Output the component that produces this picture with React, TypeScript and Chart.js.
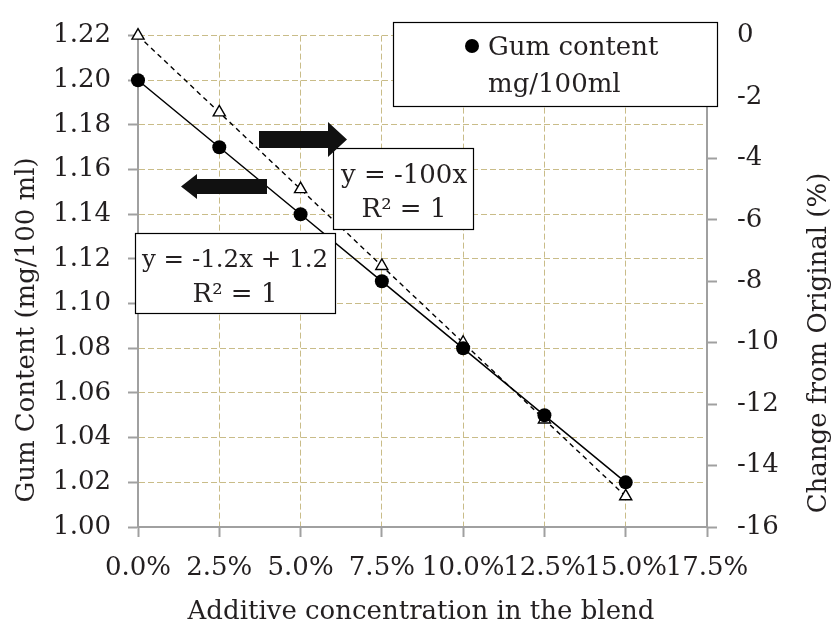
import React, { useEffect, useRef } from 'react';
import { Chart, registerables } from 'chart.js';

Chart.register(...registerables);

const concentration = [0, 0.025, 0.05, 0.075, 0.1, 0.125, 0.15];
const gumContent = [1.2, 1.17, 1.14, 1.11, 1.08, 1.05, 1.02];
const changeFromOriginal = [0, -2.5, -5, -7.5, -10, -12.5, -15];

const xTicks = [0, 0.025, 0.05, 0.075, 0.1, 0.125, 0.15, 0.175];
const xTickLabels = ['0.0%', '2.5%', '5.0%', '7.5%', '10.0%', '12.5%', '15.0%', '17.5%'];
const leftTicks = [1.0, 1.02, 1.04, 1.06, 1.08, 1.1, 1.12, 1.14, 1.16, 1.18, 1.2, 1.22];
const leftTickLabels = ['1.00', '1.02', '1.04', '1.06', '1.08', '1.10', '1.12', '1.14', '1.16', '1.18', '1.20', '1.22'];
const rightTicks = [-16, -14, -12, -10, -8, -6, -4, -2, 0];
const rightTickLabels = ['-16', '-14', '-12', '-10', '-8', '-6', '-4', '-2', '0'];

const xTitle = 'Additive concentration in the blend';
const leftTitle = 'Gum Content (mg/100 ml)';
const rightTitle = 'Change from Original (%)';
const legendLines = ['Gum content', 'mg/100ml'];
const eqGum = ['y = -1.2x + 1.2', 'R\u00B2 = 1'];
const eqChange = ['y = -100x', 'R\u00B2 = 1'];

const FONT = '"DejaVu Serif", serif';
const FS = 26;
const TEXT = '#231f20';
const GRID = '#c9bc88';
const AXIS = '#a0a0a0';

const overlay = {
  id: 'overlay',
  afterDatasetsDraw(chart: any) {
    const ctx = chart.ctx as CanvasRenderingContext2D;
    ctx.save();
    const box = (x: number, y: number, w: number, h: number) => {
      ctx.fillStyle = '#fff';
      ctx.fillRect(x, y, w, h);
      ctx.strokeStyle = '#000';
      ctx.lineWidth = 1.2;
      ctx.strokeRect(x + 0.5, y + 0.5, w, h);
    };
    ctx.fillStyle = TEXT;
    ctx.textBaseline = 'alphabetic';

    // equation boxes
    box(135, 233, 200, 80);
    ctx.fillStyle = TEXT;
    ctx.textAlign = 'center';
    ctx.font = `24.5px ${FONT}`;
    ctx.fillText(eqGum[0], 235, 267);
    ctx.font = `${FS}px ${FONT}`;
    ctx.fillText(eqGum[1], 235, 302);

    box(333, 148, 140, 81);
    ctx.fillStyle = TEXT;
    ctx.fillText(eqChange[0], 404, 183);
    ctx.fillText(eqChange[1], 404, 217);

    // legend
    box(393, 22, 324, 84);
    ctx.fillStyle = '#000';
    ctx.beginPath();
    ctx.arc(472, 46, 7, 0, Math.PI * 2);
    ctx.fill();
    ctx.fillStyle = TEXT;
    ctx.textAlign = 'left';
    ctx.fillText(legendLines[0], 488, 55);
    ctx.fillText(legendLines[1], 488, 92);

    // arrows
    ctx.fillStyle = '#111';
    ctx.beginPath();
    ctx.moveTo(259, 131);
    ctx.lineTo(328, 131);
    ctx.lineTo(328, 122);
    ctx.lineTo(347, 139.5);
    ctx.lineTo(328, 157);
    ctx.lineTo(328, 148);
    ctx.lineTo(259, 148);
    ctx.closePath();
    ctx.fill();

    ctx.beginPath();
    ctx.moveTo(267, 179);
    ctx.lineTo(197, 179);
    ctx.lineTo(197, 174);
    ctx.lineTo(181, 186.5);
    ctx.lineTo(197, 199);
    ctx.lineTo(197, 194);
    ctx.lineTo(267, 194);
    ctx.closePath();
    ctx.fill();

    // axis titles
    ctx.fillStyle = TEXT;
    ctx.textAlign = 'center';
    ctx.textBaseline = 'middle';
    ctx.fillText(xTitle, 421, 612);

    ctx.save();
    ctx.translate(27, 330);
    ctx.rotate(-Math.PI / 2);
    ctx.fillText(leftTitle, 0, 0);
    ctx.restore();

    ctx.save();
    ctx.translate(819, 343);
    ctx.rotate(-Math.PI / 2);
    ctx.fillText(rightTitle, 0, 0);
    ctx.restore();

    ctx.restore();
  },
};

const gridOpts = {
  color: GRID,
  lineWidth: 1,
  tickLength: 10,
  tickColor: AXIS,
  tickWidth: 2,
  tickBorderDash: [],
};

export default function App() {
  const ref = useRef<HTMLCanvasElement | null>(null);
  useEffect(() => {
    if (!ref.current) return;
    const chart = new Chart(ref.current, {
      type: 'line',
      data: {
        datasets: [
          {
            label: 'Gum content mg/100ml',
            data: concentration.map((x, i) => ({ x, y: gumContent[i] })),
            yAxisID: 'y',
            borderColor: '#000',
            borderWidth: 1.5,
            pointStyle: 'circle',
            pointRadius: 7,
            pointBackgroundColor: '#000',
            pointBorderColor: '#000',
            pointBorderWidth: 0,
            clip: false,
          },
          {
            label: 'Change from Original (%)',
            data: concentration.map((x, i) => ({ x, y: changeFromOriginal[i] })),
            yAxisID: 'y2',
            borderColor: '#000',
            borderWidth: 1.4,
            borderDash: [5, 4],
            pointStyle: 'triangle',
            pointRadius: 7,
            pointBackgroundColor: '#fff',
            pointBorderColor: '#000',
            pointBorderWidth: 1.4,
            clip: false,
          },
        ],
      },
      options: {
        responsive: false,
        animation: false,
        layout: { padding: { left: 0, right: 0, top: 18, bottom: 0 } },
        plugins: { legend: { display: false }, tooltip: { enabled: false } },
        scales: {
          x: {
            type: 'linear',
            min: 0,
            max: 0.175,
            afterBuildTicks: (scale: any) => {
              scale.ticks = xTicks.map((v) => ({ value: v }));
            },
            afterFit: (scale: any) => {
              scale.height = 104;
            },
            ticks: {
              autoSkip: false,
              maxRotation: 0,
              minRotation: 0,
              padding: 16,
              color: TEXT,
              font: { family: FONT, size: FS },
              callback: (_v: any, i: number) => xTickLabels[i],
            },
            grid: gridOpts,
            border: { color: AXIS, width: 2, dash: [6, 3] },
          },
          y: {
            type: 'linear',
            position: 'left',
            min: 1.0,
            max: 1.22,
            afterBuildTicks: (scale: any) => {
              scale.ticks = leftTicks.map((v) => ({ value: v }));
            },
            afterFit: (scale: any) => {
              scale.width = 138;
            },
            ticks: {
              padding: 17,
              color: TEXT,
              font: { family: FONT, size: FS },
              callback: (_v: any, i: number) => leftTickLabels[i],
            },
            grid: gridOpts,
            border: { color: AXIS, width: 2, dash: [6, 3] },
          },
          y2: {
            type: 'linear',
            position: 'right',
            min: -16,
            max: 0,
            afterBuildTicks: (scale: any) => {
              scale.ticks = rightTicks.map((v) => ({ value: v }));
            },
            afterFit: (scale: any) => {
              scale.width = 130;
            },
            ticks: {
              padding: 20,
              color: TEXT,
              font: { family: FONT, size: FS },
              callback: (_v: any, i: number) => rightTickLabels[i],
            },
            grid: { ...gridOpts, drawOnChartArea: false },
            border: { color: AXIS, width: 2 },
          },
        },
      },
      plugins: [overlay],
    } as any);
    return () => chart.destroy();
  }, []);
  return (
    <div style={{ position: 'fixed', left: 0, top: 0, width: 837, height: 631, background: '#fff' }}>
      <canvas ref={ref} width={837} height={631} />
    </div>
  );
}
